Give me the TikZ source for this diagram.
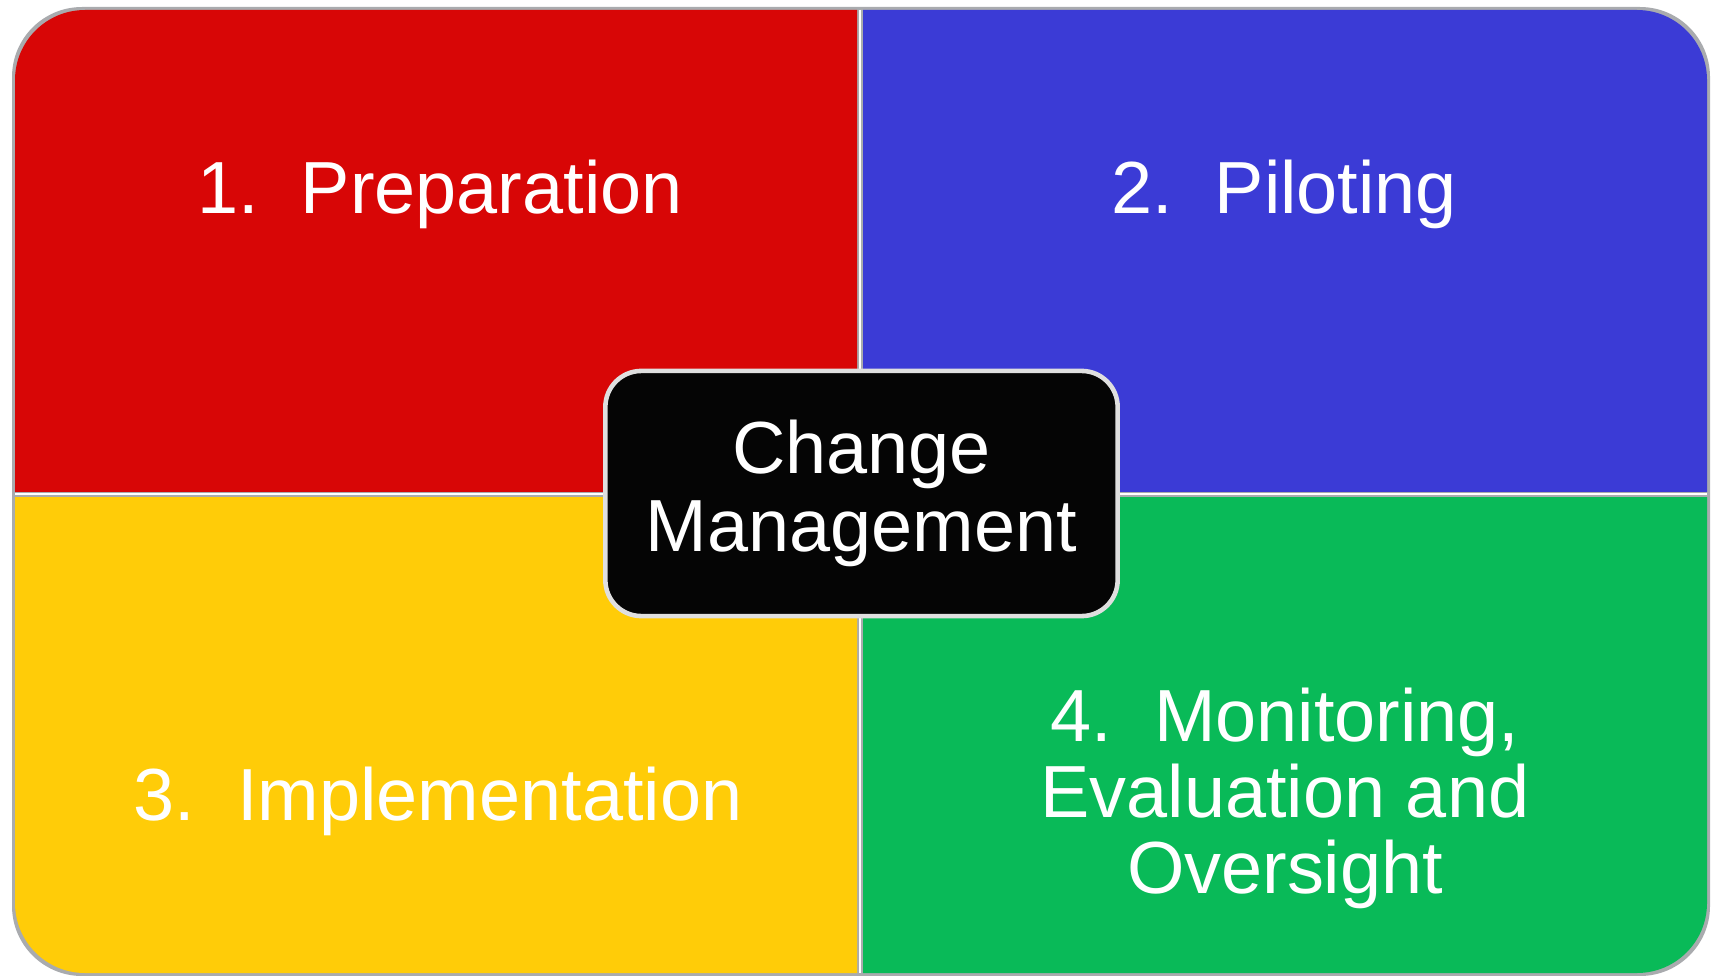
\documentclass[tikz,border=0pt]{standalone}
\usepackage{fontspec}
\setmainfont{Liberation Sans}
\usetikzlibrary{positioning}
\definecolor{prep}{HTML}{D80606}
\definecolor{pilot}{HTML}{3B3BD6}
\definecolor{impl}{HTML}{FFCC08}
\definecolor{monit}{HTML}{09BA58}
\definecolor{hubfill}{HTML}{050505}
\definecolor{rim}{HTML}{A9ABAE}

\begin{document}
\begin{tikzpicture}[
  x=0.01cm,y=-0.01cm,
  outer/.style={rounded corners=0.7cm},
  lbl/.style={text=white,align=center,font=\fontsize{21}{21.6}\selectfont},
  hub/.style={draw=gray!25,line width=1.3pt,fill=hubfill,rounded corners=0.36cm,
    minimum width=5.12cm,minimum height=2.45cm,align=center,text=white,
    font=\fontsize{21}{22.2}\selectfont}
]
\useasboundingbox (0,0) rectangle (1715,976);

% frame and the gaps between the four fields
\fill[rim,outer] (12,7) rectangle (1710,976);
\draw[white,line width=0.6pt] (860,10) -- (860,973);
\draw[white,line width=0.6pt] (15,494) -- (1707,494);

% four fields, each keeps only its own outer corner round
\begin{scope}
  \clip (15,10) rectangle (857,491);
  \fill[prep,outer] (15,10) rectangle (1707,973);
\end{scope}
\begin{scope}
  \clip (863,10) rectangle (1707,491);
  \fill[pilot,outer] (15,10) rectangle (1707,973);
\end{scope}
\begin{scope}
  \clip (15,497) rectangle (857,973);
  \fill[impl,outer] (15,10) rectangle (1707,973);
\end{scope}
\begin{scope}
  \clip (863,497) rectangle (1707,973);
  \fill[monit,outer] (15,10) rectangle (1707,973);
\end{scope}

\node[lbl,anchor=base] (prep) at (440,214) {1.\hspace{12pt}Preparation};
\node[lbl,anchor=base] (pilot) at (1284,214) {2.\hspace{12pt}Piloting};
\node[lbl,anchor=base] (impl) at (438,820) {3.\hspace{12pt}Implementation};
\node[lbl] (monit) at (1285,798) {4.\hspace{12pt}Monitoring,\\Evaluation and\\Oversight};

\node[hub] (change) at (861.5,493.5) {Change\\Management};
\end{tikzpicture}
\end{document}
